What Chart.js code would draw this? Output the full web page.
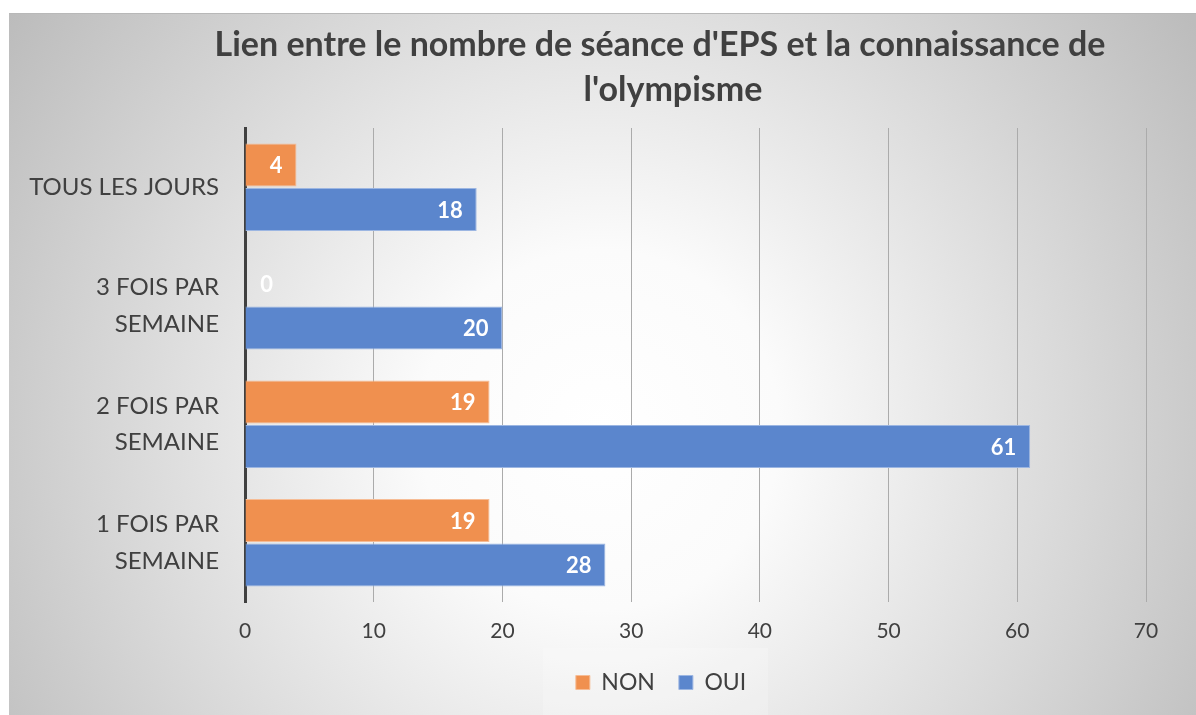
<!DOCTYPE html>
<html>
<head>
<meta charset="utf-8">
<script src="https://cdn.jsdelivr.net/npm/chart.js@4"></script>
<style>
html,body{margin:0;padding:0;background:#fff;}
#wrap{width:1196px;height:715px;position:relative;}
</style>
</head>
<body>
<div id="wrap"><canvas id="c" width="1196" height="715"></canvas></div>
<script>
const titleLines = ["Lien entre le nombre de séance d'EPS et la connaissance de", "l'olympisme"];
const categories = ["TOUS LES JOURS", ["3 FOIS PAR", "SEMAINE"], ["2 FOIS PAR", "SEMAINE"], ["1 FOIS PAR", "SEMAINE"]];
const seriesNames = ["NON", "OUI"];
const nonValues = [4, 0, 19, 19];
const ouiValues = [18, 20, 61, 28];
const xTicks = [0, 10, 20, 30, 40, 50, 60, 70];

const FONT = "Lato, 'Open Sans', sans-serif";

const bgPlugin = {
  id: 'bg',
  afterLayout(chart) {
    const lg = chart.legend;
    if (lg) { lg.left += 88; lg.right += 88; }
  },
  beforeDraw(chart) {
    const ctx = chart.ctx;
    ctx.save();
    ctx.fillStyle = '#ffffff';
    ctx.fillRect(0, 0, chart.width, chart.height);
    const g = ctx.createRadialGradient(600, 430, 0, 600, 430, 720);
    g.addColorStop(0, '#ffffff');
    g.addColorStop(0.25, '#fbfbfb');
    g.addColorStop(1, '#bcbcbc');
    ctx.fillStyle = g;
    ctx.fillRect(9, 13, chart.width - 9, chart.height - 13);
    ctx.fillStyle = '#b8b8b8';
    ctx.fillRect(9, 13, chart.width - 9, 1);
    // legend box
    ctx.fillStyle = 'rgba(255,255,255,0.2)';
    ctx.fillRect(543, 648, 225, chart.height - 648);
    // title
    ctx.fillStyle = '#404040';
    ctx.font = "bold 34px " + FONT;
    ctx.textAlign = 'center';
    ctx.textBaseline = 'middle';
    ctx.fillText(titleLines[0], 660, 45);
    ctx.fillText(titleLines[1], 673, 90);
    ctx.restore();
  }
};

const labelPlugin = {
  id: 'vals',
  afterDatasetsDraw(chart) {
    const ctx = chart.ctx;
    ctx.save();
    ctx.font = "bold 22px " + FONT;
    ctx.fillStyle = '#ffffff';
    ctx.textAlign = 'right';
    ctx.textBaseline = 'middle';
    chart.data.datasets.forEach((ds, di) => {
      const meta = chart.getDatasetMeta(di);
      meta.data.forEach((el, i) => {
        const x = Math.max(el.x - 14, el.base + 28);
        ctx.fillText(String(ds.data[i]), x, el.y + 1);
      });
    });
    ctx.restore();
  }
};

new Chart(document.getElementById('c'), {
  type: 'bar',
  data: {
    labels: categories,
    datasets: [
      { label: seriesNames[0], data: nonValues, backgroundColor: '#F0904F', borderColor: '#F6BC95', borderWidth: 1 },
      { label: seriesNames[1], data: ouiValues, backgroundColor: '#5B86CD', borderColor: '#9CB6E2', borderWidth: 1 }
    ]
  },
  options: {
    indexAxis: 'y',
    responsive: false,
    animation: false,
    devicePixelRatio: 1,
    categoryPercentage: 0.75,
    barPercentage: 0.97,
    layout: { padding: { left: 0, right: 50, top: 128, bottom: 11 } },
    scales: {
      x: {
        min: 0, max: 70,
        afterBuildTicks: s => { s.ticks = xTicks.map(v => ({ value: v })); },
        grid: { color: '#ababab', lineWidth: 1, drawTicks: false },
        border: { display: false },
        ticks: { color: '#404040', font: { family: FONT, size: 21 }, padding: 17 },
        afterFit: s => { s.height = 45; }
      },
      y: {
        grid: { display: false },
        border: { color: '#404040', width: 3 },
        ticks: { color: '#404040', font: { family: FONT, size: 24, lineHeight: 1.54 }, padding: 18 },
        afterFit: s => { s.width = 245; }
      }
    },
    plugins: {
      title: { display: false },
      tooltip: { enabled: false },
      legend: {
        position: 'bottom',
        labels: { boxWidth: 14, boxHeight: 14, color: '#404040', font: { family: FONT, size: 23 }, padding: 24 }
      }
    }
  },
  plugins: [bgPlugin, labelPlugin]
});
</script>
</body>
</html>
